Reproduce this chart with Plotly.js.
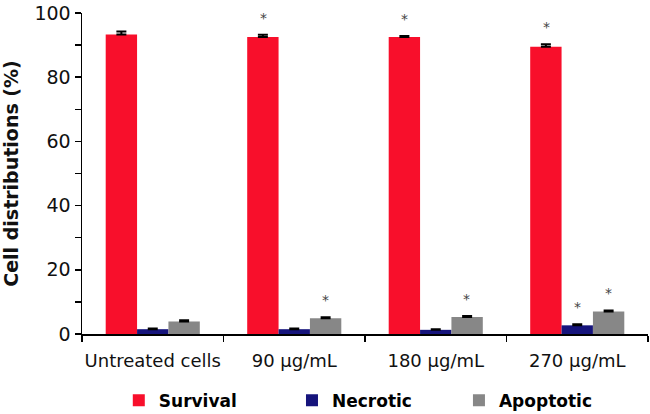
<!DOCTYPE html>
<html><head><meta charset="utf-8">
<script src="https://cdn.plot.ly/plotly-3.0.1.min.js"></script>
<style>html,body{margin:0;padding:0;background:#fff}#chart{width:650px;height:414px}</style>
</head><body><div id="chart"></div>
<script>
var categories = ["Untreated cells", "90 μg/mL", "180 μg/mL", "270 μg/mL"];
var survival = [93.3, 92.5, 92.5, 89.5];
var survivalErr = [0.9, 0.7, 0.3, 0.8];
var necrotic = [1.5, 1.5, 1.3, 2.7];
var necroticErr = [0.25, 0.25, 0.2, 0.3];
var apoptotic = [3.9, 4.9, 5.3, 7.0];
var apoptoticErr = [0.4, 0.3, 0.3, 0.35];
var survivalSig = [false, true, true, true];
var necroticSig = [false, false, false, true];
var apoptoticSig = [false, true, true, true];
var yTicks = [0, 20, 40, 60, 80, 100];

var font = "DejaVu Sans, sans-serif";
function barTrace(name, y, err, color, legend) {
  return {type: "bar", name: name, x: categories, y: y, legend: legend, marker: {color: color, line: {width: 0}},
    error_y: {type: "data", array: err, visible: true, symmetric: false, arrayminus: err.map(function(){return 0;}), color: "#000", thickness: 2, width: 5}};
}
var data = [
  barTrace("Survival", survival, survivalErr, "#F80F2B", "legend"),
  barTrace("Necrotic", necrotic, necroticErr, "#16147C", "legend2"),
  barTrace("Apoptotic", apoptotic, apoptoticErr, "#878787", "legend3")
];
var annotations = [];
var series = [[survival, survivalErr, survivalSig, -31], [necrotic, necroticErr, necroticSig, 0], [apoptotic, apoptoticErr, apoptoticSig, 31]];
series.forEach(function(s) {
  categories.forEach(function(c, i) {
    if (s[2][i]) annotations.push({x: c, y: s[0][i] + s[1][i], xref: "x", yref: "y", text: "*", showarrow: false,
      xshift: s[3], yshift: 17, font: {family: font, size: 14, color: "#444"}});
  });
});
function legendAt(x) {
  return {orientation: "h", x: x, xanchor: "left", y: -0.208, yanchor: "middle", itemwidth: 30,
    font: {size: 17, family: font, color: "#000", weight: "bold"}};
}
var layout = {
  width: 650, height: 414,
  margin: {l: 82, r: 2, t: 13, b: 80, autoexpand: false},
  paper_bgcolor: "#fff", plot_bgcolor: "#fff",
  barmode: "group", bargap: 0.335, bargroupgap: 0,
  font: {family: font, size: 18, color: "#111"},
  xaxis: {type: "category", showline: true, linecolor: "#000", linewidth: 1.5, ticks: "outside", tickson: "boundaries",
    ticklen: 6, tickwidth: 1.5, tickcolor: "#000", showgrid: false, zeroline: false, tickfont: {size: 18},
    tickangle: 0, ticklabelstandoff: 10},
  yaxis: {range: [0, 100], tickvals: yTicks, showline: true, linecolor: "#000", linewidth: 1.5, ticks: "outside",
    ticklen: 6, tickwidth: 1.5, tickcolor: "#000", showgrid: false, zeroline: false, tickfont: {size: 19},
    ticklabeloverflow: "allow",
    minor: {dtick: 10, ticks: "outside", ticklen: 6, tickwidth: 1.5, tickcolor: "#000", showgrid: false},
    title: {text: "<b>Cell distributions (%)</b>", font: {size: 19}, standoff: 12}},
  showlegend: true,
  legend: legendAt(0.065),
  legend2: legendAt(0.371),
  legend3: legendAt(0.666),
  annotations: annotations
};
Plotly.newPlot("chart", data, layout, {displayModeBar: false, staticPlot: true});
</script></body></html>
